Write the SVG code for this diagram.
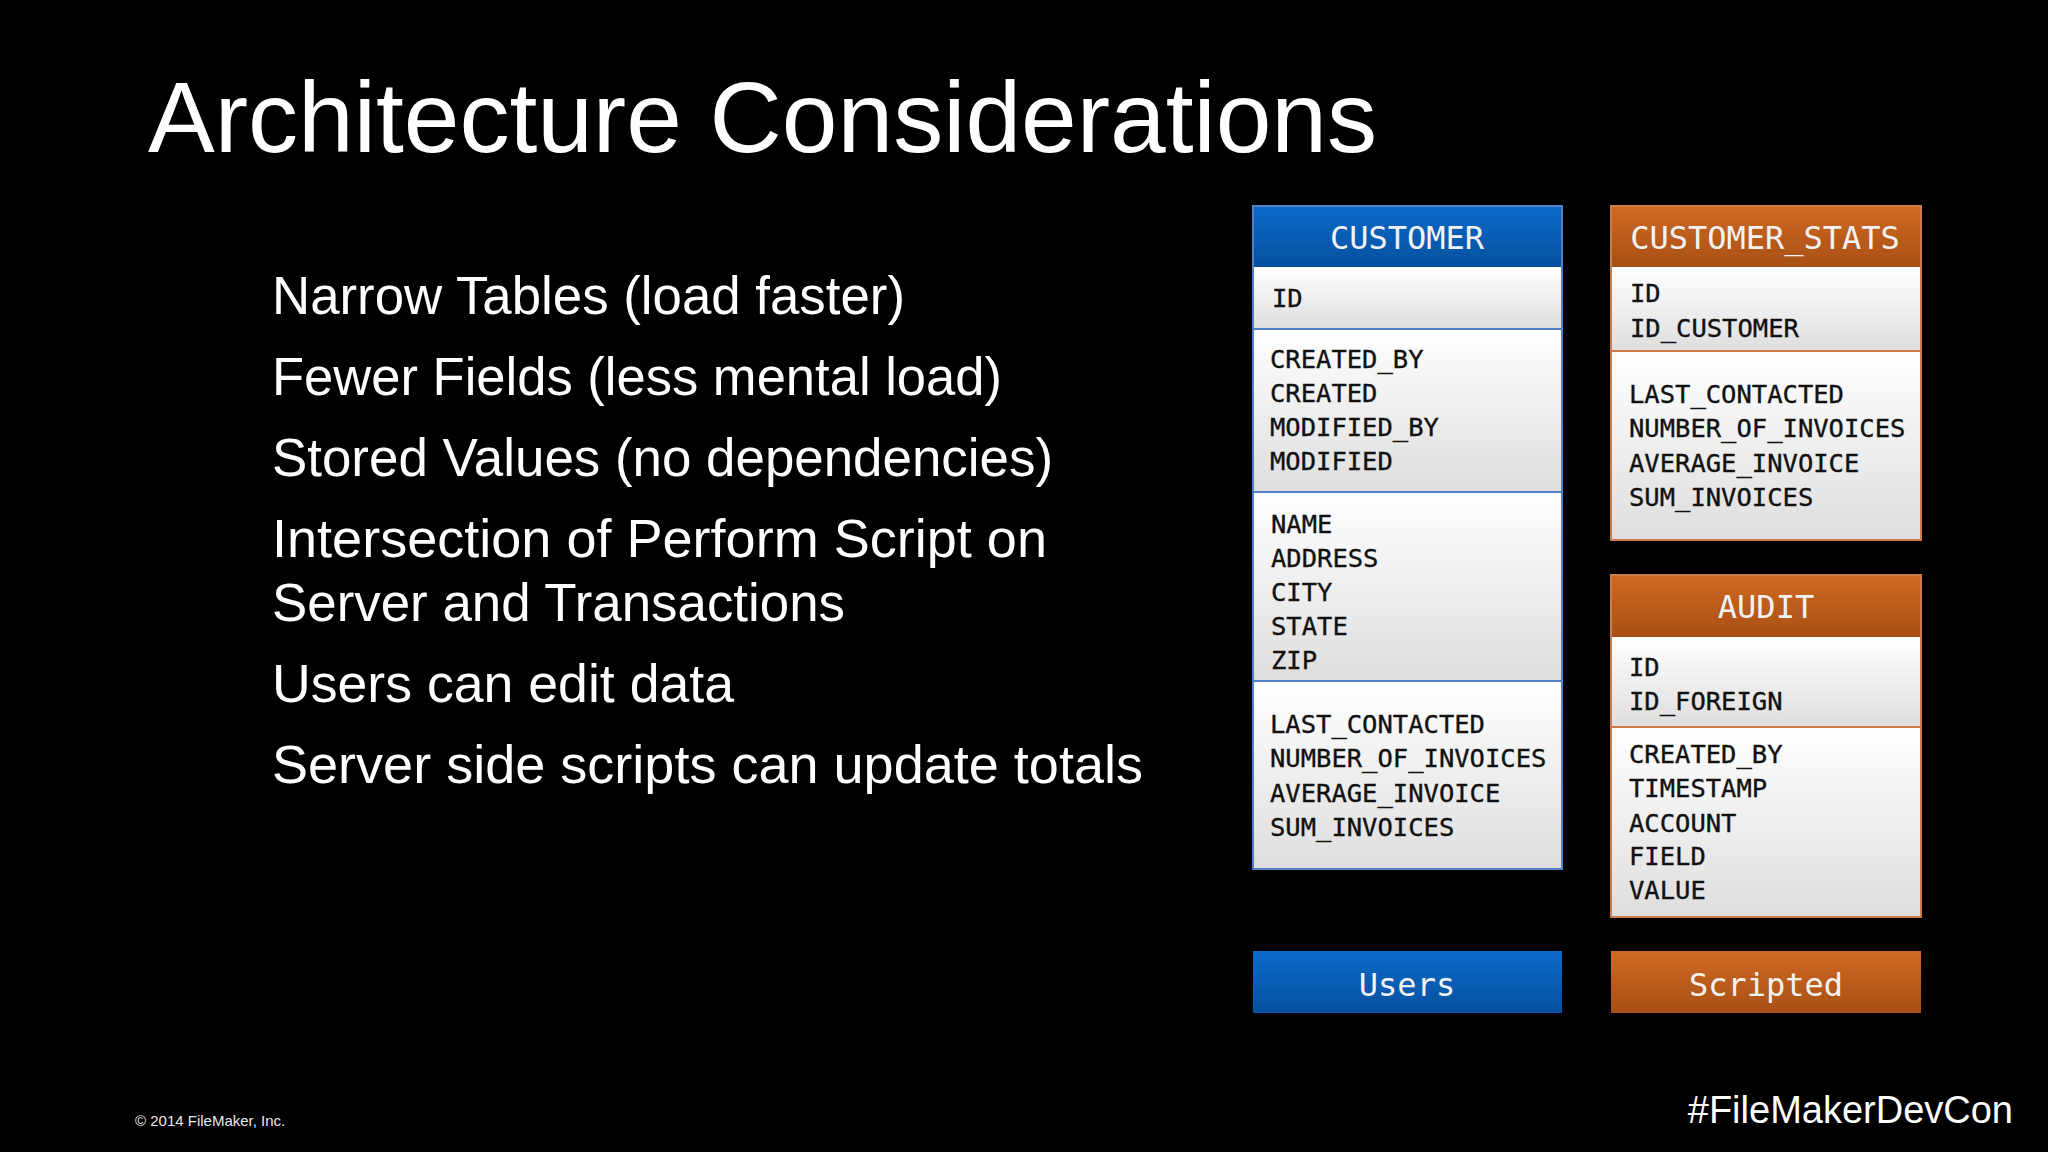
<svg xmlns="http://www.w3.org/2000/svg" width="2048" height="1152" viewBox="0 0 2048 1152">
  <defs>
    <linearGradient id="gBlue" x1="0" y1="0" x2="0" y2="1">
      <stop offset="0" stop-color="#0b6ac8"/>
      <stop offset="1" stop-color="#05509f"/>
    </linearGradient>
    <linearGradient id="gOrange" x1="0" y1="0" x2="0" y2="1">
      <stop offset="0" stop-color="#d06a22"/>
      <stop offset="1" stop-color="#a84f15"/>
    </linearGradient>
    <linearGradient id="gBody" x1="0" y1="0" x2="0" y2="1">
      <stop offset="0" stop-color="#ffffff"/>
      <stop offset="1" stop-color="#dedede"/>
    </linearGradient>
    <style>
      .title { font-family: "Liberation Sans", Arial, sans-serif; font-size: 100px; fill: #ffffff; }
      .bullet { font-family: "Liberation Sans", Arial, sans-serif; font-size: 53px; fill: #ffffff; }
      .small { font-family: "Liberation Sans", Arial, sans-serif; font-size: 15px; fill: #e8e8e8; }
      .tag { font-family: "Liberation Sans", Arial, sans-serif; font-size: 38px; fill: #ffffff; }
      .hdr { font-family: "DejaVu Sans Mono", monospace; font-size: 32px; fill: #f2f2f2; text-anchor: middle; }
      .fld { font-family: "DejaVu Sans Mono", monospace; font-size: 25.5px; fill: #111111; stroke: #111111; stroke-width: 0.35; }
      .body { fill: url(#gBody); }
      .bline { stroke: #4f80c6; stroke-width: 2; fill: none; }
      .oline { stroke: #c97d4a; stroke-width: 2; fill: none; }
    </style>
  </defs>

  <rect x="0" y="0" width="2048" height="1152" fill="#000000"/>

  <text class="title" x="148" y="152" textLength="1229" lengthAdjust="spacingAndGlyphs">Architecture Considerations</text>

  <g id="bullets">
    <text class="bullet" x="272" y="314" textLength="633" lengthAdjust="spacingAndGlyphs">Narrow Tables (load faster)</text>
    <text class="bullet" x="272" y="395" textLength="730" lengthAdjust="spacingAndGlyphs">Fewer Fields (less mental load)</text>
    <text class="bullet" x="272" y="476" textLength="781" lengthAdjust="spacingAndGlyphs">Stored Values (no dependencies)</text>
    <text class="bullet" x="272" y="557" textLength="775" lengthAdjust="spacingAndGlyphs">Intersection of Perform Script on</text>
    <text class="bullet" x="272" y="621" textLength="573" lengthAdjust="spacingAndGlyphs">Server and Transactions</text>
    <text class="bullet" x="272" y="702" textLength="462" lengthAdjust="spacingAndGlyphs">Users can edit data</text>
    <text class="bullet" x="272" y="783" textLength="871" lengthAdjust="spacingAndGlyphs">Server side scripts can update totals</text>
  </g>

  <g id="customer">
    <rect x="1253" y="206" width="309" height="61" fill="url(#gBlue)"/>
    <text class="hdr" x="1407" y="249">CUSTOMER</text>
    <rect class="body" x="1253" y="267" width="309" height="62"/>
    <rect class="body" x="1253" y="329" width="309" height="163"/>
    <rect class="body" x="1253" y="492" width="309" height="189"/>
    <rect class="body" x="1253" y="681" width="309" height="188"/>
    <line class="bline" x1="1253" y1="329" x2="1562" y2="329"/>
    <line class="bline" x1="1253" y1="492" x2="1562" y2="492"/>
    <line class="bline" x1="1253" y1="681" x2="1562" y2="681"/>
    <rect class="bline" x="1253" y="206" width="309" height="663"/>
    <text class="fld" x="1272" y="307">ID</text>
    <text class="fld" x="1270" y="368">CREATED_BY</text>
    <text class="fld" x="1270" y="402">CREATED</text>
    <text class="fld" x="1270" y="436">MODIFIED_BY</text>
    <text class="fld" x="1270" y="470">MODIFIED</text>
    <text class="fld" x="1271" y="533">NAME</text>
    <text class="fld" x="1271" y="567">ADDRESS</text>
    <text class="fld" x="1271" y="601">CITY</text>
    <text class="fld" x="1271" y="635">STATE</text>
    <text class="fld" x="1271" y="669">ZIP</text>
    <text class="fld" x="1270" y="733">LAST_CONTACTED</text>
    <text class="fld" x="1270" y="767">NUMBER_OF_INVOICES</text>
    <text class="fld" x="1270" y="802">AVERAGE_INVOICE</text>
    <text class="fld" x="1270" y="836">SUM_INVOICES</text>
  </g>

  <g id="customer_stats">
    <rect x="1611" y="206" width="310" height="61" fill="url(#gOrange)"/>
    <text class="hdr" x="1765" y="249">CUSTOMER_STATS</text>
    <rect class="body" x="1611" y="267" width="310" height="84"/>
    <rect class="body" x="1611" y="351" width="310" height="189"/>
    <line class="oline" x1="1611" y1="351" x2="1921" y2="351"/>
    <rect class="oline" x="1611" y="206" width="310" height="334"/>
    <text class="fld" x="1630" y="302">ID</text>
    <text class="fld" x="1630" y="337">ID_CUSTOMER</text>
    <text class="fld" x="1629" y="403">LAST_CONTACTED</text>
    <text class="fld" x="1629" y="437">NUMBER_OF_INVOICES</text>
    <text class="fld" x="1629" y="472">AVERAGE_INVOICE</text>
    <text class="fld" x="1629" y="506">SUM_INVOICES</text>
  </g>

  <g id="audit">
    <rect x="1611" y="575" width="310" height="62" fill="url(#gOrange)"/>
    <text class="hdr" x="1766" y="618">AUDIT</text>
    <rect class="body" x="1611" y="637" width="310" height="90"/>
    <rect class="body" x="1611" y="727" width="310" height="190"/>
    <line class="oline" x1="1611" y1="727" x2="1921" y2="727"/>
    <rect class="oline" x="1611" y="575" width="310" height="342"/>
    <text class="fld" x="1629" y="676">ID</text>
    <text class="fld" x="1629" y="710">ID_FOREIGN</text>
    <text class="fld" x="1629" y="763">CREATED_BY</text>
    <text class="fld" x="1629" y="797">TIMESTAMP</text>
    <text class="fld" x="1629" y="832">ACCOUNT</text>
    <text class="fld" x="1629" y="865">FIELD</text>
    <text class="fld" x="1629" y="899">VALUE</text>
  </g>

  <g id="users">
    <rect x="1253" y="951" width="309" height="62" fill="url(#gBlue)"/>
    <text class="hdr" x="1407" y="996">Users</text>
  </g>

  <g id="scripted">
    <rect x="1611" y="951" width="310" height="62" fill="url(#gOrange)"/>
    <text class="hdr" x="1766" y="996">Scripted</text>
  </g>

  <g id="connectors"></g>

  <text class="small" x="135" y="1126">© 2014 FileMaker, Inc.</text>
  <text class="tag" x="2013" y="1123" text-anchor="end">#FileMakerDevCon</text>
</svg>
